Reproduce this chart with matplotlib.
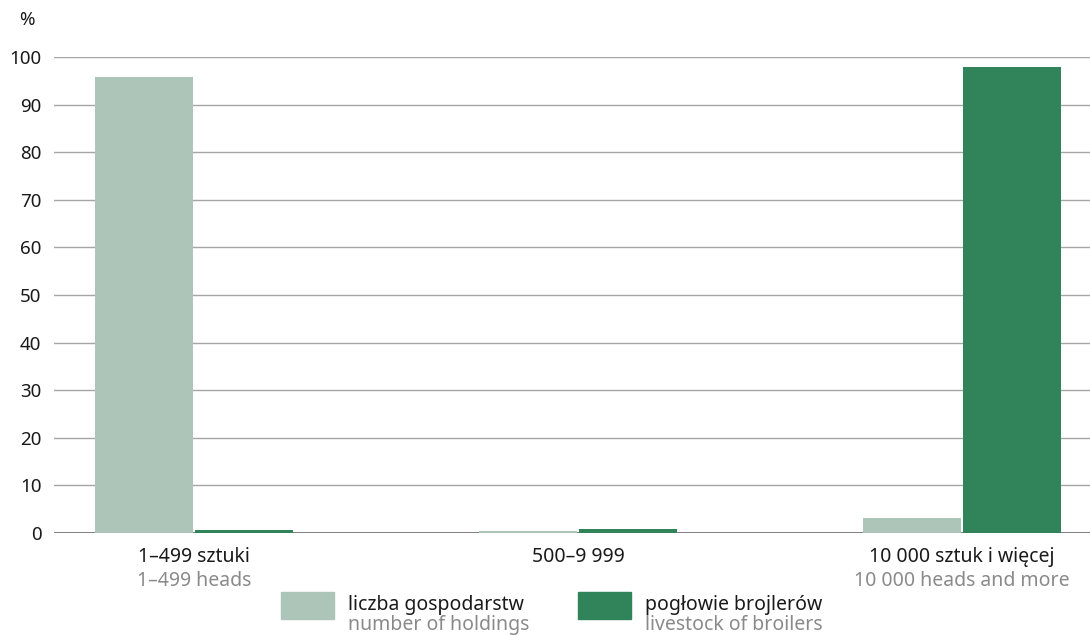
import matplotlib
matplotlib.use("Agg")
import matplotlib.pyplot as plt
import numpy as np

plt.rcParams['font.family'] = ['Noto Sans', 'DejaVu Sans']

categories_pl = ["1–499 sztuki", "500–9 999", "10 000 sztuk i więcej"]
categories_en = ["1–499 heads", "", "10 000 heads and more"]
holdings = [95.8, 0.45, 3.2]
livestock = [0.7, 0.8, 97.9]
series_pl = ["liczba gospodarstw", "pogłowie brojlerów"]
series_en = ["number of holdings", "livestock of broilers"]
colors = ["#adc5b8", "#31835a"]
yticks = [0, 10, 20, 30, 40, 50, 60, 70, 80, 90, 100]

W, H = 1090, 635
FS = 14
fig = plt.figure(figsize=(W/100, H/100), dpi=100)
ax = fig.add_axes([54/W, 1-533/H, (W-54)/W, (533-57)/H])

x = np.arange(len(categories_pl))
bw = 0.255
ax.bar(x - bw/2 - 0.003, holdings, width=bw, color=colors[0], zorder=3)
ax.bar(x + bw/2 + 0.003, livestock, width=bw, color=colors[1], zorder=3)

ax.set_xlim(-0.365, 2.333)
ax.set_ylim(0, 100)
ax.set_yticks(yticks)
ax.set_yticklabels([str(t) for t in yticks], fontsize=13.5, color="#1a1a1a")
ax.tick_params(axis='y', length=0, pad=9)
ax.tick_params(axis='x', length=0)
ax.set_xticks([])
for s in ax.spines.values():
    s.set_visible(False)
for t in yticks[1:]:
    ax.axhline(t, color="#a6a6a6", lw=1.0, zorder=1)
ax.axhline(0, color="#808080", lw=1.4, zorder=2)

for i in range(len(categories_pl)):
    ax.annotate(categories_pl[i], xy=(x[i], 0), xycoords='data', xytext=(0, -10),
                textcoords='offset points', ha='center', va='top', fontsize=FS, color="#1a1a1a")
    if categories_en[i]:
        ax.annotate(categories_en[i], xy=(x[i], 0), xycoords='data', xytext=(0, -27),
                    textcoords='offset points', ha='center', va='top', fontsize=FS, color="#8a8a8a")

fig.text(35/W, 1-20/H, "%", ha='right', va='center', fontsize=13.5, color="#1a1a1a")

# legend
leg_x = [281, 578]
for i in range(2):
    fig.patches.append(plt.Rectangle((leg_x[i]/W, 1-619/H), 53/W, 27/H,
                                     transform=fig.transFigure, color=colors[i]))
    fig.text((leg_x[i]+67)/W, 1-605/H, series_pl[i], ha='left', va='center',
             fontsize=FS, color="#1a1a1a")
    fig.text((leg_x[i]+67)/W, 1-625/H, series_en[i], ha='left', va='center',
             fontsize=FS, color="#8a8a8a")

fig.savefig("out.png", dpi=100)
